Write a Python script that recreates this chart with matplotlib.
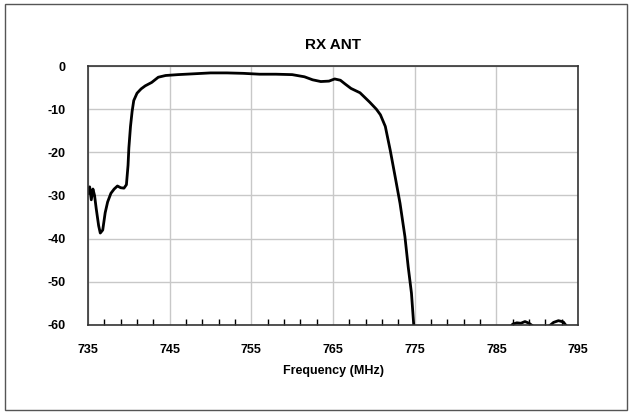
import numpy as np
import matplotlib
matplotlib.use("Agg")
import matplotlib.pyplot as plt
from matplotlib.patches import Rectangle

# Frequency response of the RX antenna filter
freq_mhz = [735.0, 735.2, 735.4, 735.6, 735.8, 736.0, 736.3, 736.5, 736.8, 737.1,
            737.4, 737.8, 738.2, 738.6, 739.0, 739.4, 739.7, 739.9, 740.0, 740.2,
            740.4, 740.6, 741.0, 741.5, 742.0, 742.8, 743.6, 744.5, 746.0, 748.0,
            750.0, 752.0, 754.0, 756.0, 758.0, 760.0, 761.5, 762.5, 763.5, 764.5,
            765.2, 765.9, 766.5, 767.2, 768.3, 769.5, 770.3, 770.8, 771.4, 772.0,
            772.6, 773.2, 773.8, 774.2, 774.6, 774.9, 775.2,
            780.0,
            786.5, 787.0, 787.5, 788.0, 788.5, 789.0, 789.5, 790.5, 791.5, 792.0,
            792.6, 793.2, 793.6, 794.0]
gain_db = [-29.5, -28.0, -31.0, -28.5, -30.0, -33.0, -37.0, -38.7, -38.0, -34.0,
           -31.5, -29.5, -28.5, -27.8, -28.2, -28.3, -27.5, -23.0, -19.0, -14.0,
           -10.5, -8.0, -6.3, -5.3, -4.6, -3.8, -2.6, -2.2, -2.0, -1.8,
           -1.6, -1.6, -1.7, -1.9, -1.9, -2.0, -2.5, -3.2, -3.6, -3.5,
           -3.0, -3.3, -4.2, -5.2, -6.2, -8.4, -10.0, -11.3, -14.0, -19.5,
           -25.6, -31.8, -39.5, -46.5, -52.6, -60.5, -65.0,
           np.nan,
           -61.0, -59.8, -59.5, -59.6, -59.2, -59.6, -60.3, -61.0, -60.2, -59.4,
           -59.0, -59.3, -60.3, -61.0]

x_ticks = [735, 745, 755, 765, 775, 785, 795]
y_ticks = [0, -10, -20, -30, -40, -50, -60]

plt.rcParams['font.family'] = ['Liberation Sans Narrow', 'Liberation Sans', 'DejaVu Sans']
plt.rcParams['axes.unicode_minus'] = False

fig = plt.figure(figsize=(6.31, 4.12), dpi=100)
ax = fig.add_axes([0.1395, 0.2112, 0.7766, 0.6286])

# outer chart border
fig.patches.append(Rectangle((0.008, 0.005), 0.986, 0.985, transform=fig.transFigure,
                             fill=False, edgecolor="#555555", linewidth=1.0))

ax.plot(freq_mhz, gain_db, color="black", linewidth=2.0)

ax.set_xlim(735, 795)
ax.set_ylim(-60, 0)
ax.set_xticks(x_ticks)
ax.set_yticks(y_ticks)
ax.set_xticks(np.arange(735, 796, 2), minor=True)
ax.grid(True, which="major", color="#c8c8c8", linewidth=1.0)
ax.set_axisbelow(True)

ax.tick_params(axis="x", which="major", length=0, pad=14, labelsize=9)
ax.tick_params(axis="x", which="minor", direction="in", length=4, width=1, color="black")
ax.tick_params(axis="y", length=0, pad=16, labelsize=9)
for lbl in ax.get_xticklabels() + ax.get_yticklabels():
    lbl.set_fontweight("bold")

for s in ax.spines.values():
    s.set_color("#333333")
    s.set_linewidth(1.2)

ax.set_title("RX ANT", fontsize=11, fontweight="bold", pad=12)
ax.set_xlabel("Frequency (MHz)", fontsize=9, fontweight="bold", labelpad=6)

fig.savefig("out.png", dpi=100)
